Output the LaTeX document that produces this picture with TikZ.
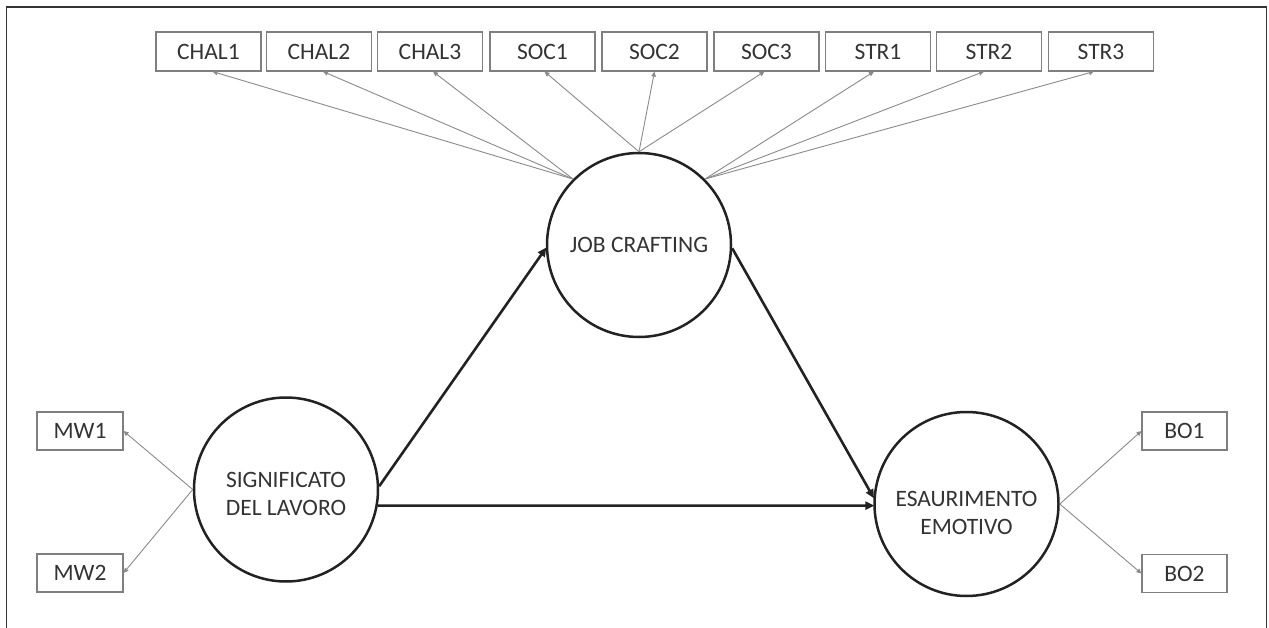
\documentclass[tikz,border=0pt]{standalone}
\usepackage{fontspec}
\setmainfont{Carlito}
\usetikzlibrary{arrows.meta}
\definecolor{txt}{HTML}{333333}
\definecolor{thick}{HTML}{222222}
\definecolor{thin}{HTML}{8A8A8A}
\definecolor{boxc}{HTML}{7F7F7F}
\definecolor{frame}{HTML}{333333}
\tikzset{
  latent/.style={circle, draw=thick, line width=2.5pt, minimum size=184pt, inner sep=0pt, align=center, text=txt, font=\fontsize{23.5}{28}\selectfont},
  ind/.style={rectangle, draw=boxc, line width=1.1pt, minimum width=105pt, minimum height=39pt, inner sep=0pt, text=txt, font=\fontsize{23.5}{28}\selectfont},
  sind/.style={ind, minimum width=86pt, minimum height=38pt},
  load/.style={draw=thin, line width=0.9pt, -{Triangle[length=5pt,width=4.5pt]}},
  path/.style={draw=thick, line width=2.6pt, -{Triangle[length=9pt,width=8pt]}, shorten >=-1pt}
}
\begin{document}
\begin{tikzpicture}[x=1pt,y=-1pt]
\useasboundingbox (0,0) rectangle (1269,628);
\draw[frame, line width=1.5pt] (6.5,628) -- (6.5,7) -- (1266.5,7) -- (1266.5,628);

% indicators top
\node[ind] (chal1) at (208.5,51.5) {CHAL1};
\node[ind] (chal2) at (319,51.5) {CHAL2};
\node[ind] (chal3) at (430,51.5) {CHAL3};
\node[ind] (soc1) at (542.5,51.5) {SOC1};
\node[ind] (soc2) at (654.5,51.5) {SOC2};
\node[ind] (soc3) at (766.5,51.5) {SOC3};
\node[ind] (str1) at (878,51.5) {STR1};
\node[ind] (str2) at (989,51.5) {STR2};
\node[ind] (str3) at (1101,51.5) {STR3};

% side indicators
\node[sind] (mw1) at (80,431) {MW1};
\node[sind] (mw2) at (80,573) {MW2};
\node[sind, minimum width=85pt] (bo1) at (1184.5,431) {BO1};
\node[sind, minimum width=85pt] (bo2) at (1184.5,573.5) {BO2};

% latent variables
\node[latent] (jc) at (639,245) {JOB CRAFTING};
\node[latent] (sig) at (286,489.5) {\raisebox{-6pt}[\height][\depth]{\begin{tabular}{@{}c@{}}SIGNIFICATO\\DEL LAVORO\end{tabular}}};
\node[latent] (es) at (966.5,504) {\raisebox{-11pt}[\height][\depth]{\begin{tabular}{@{}c@{}}ESAURIMENTO\\EMOTIVO\end{tabular}}};

% loadings
\draw[load] (jc.135) -- ([xshift=4pt]chal1.south);
\draw[load] (jc.135) -- ([xshift=4pt]chal2.south);
\draw[load] (jc.135) -- ([xshift=3pt]chal3.south);
\draw[load] (jc.north) -- ([xshift=2pt]soc1.south);
\draw[load] (jc.north) -- (soc2.south);
\draw[load] (jc.north) -- ([xshift=-2pt]soc3.south);
\draw[load] (jc.45) -- ([xshift=-4pt]str1.south);
\draw[load] (jc.45) -- ([xshift=-5pt]str2.south);
\draw[load] (jc.45) -- ([xshift=-7pt]str3.south);

\draw[load] (sig.west) -- (mw1.east);
\draw[load] (sig.west) -- (mw2.east);
\draw[load] (es.east) -- (bo1.west);
\draw[load] (es.east) -- (bo2.west);

% structural paths
\draw[path] (sig.2) -- (jc.182);
\draw[path] (sig.-10) -- (es.181);
\draw[path] (jc.-2) -- (es.176);
\end{tikzpicture}
\end{document}
